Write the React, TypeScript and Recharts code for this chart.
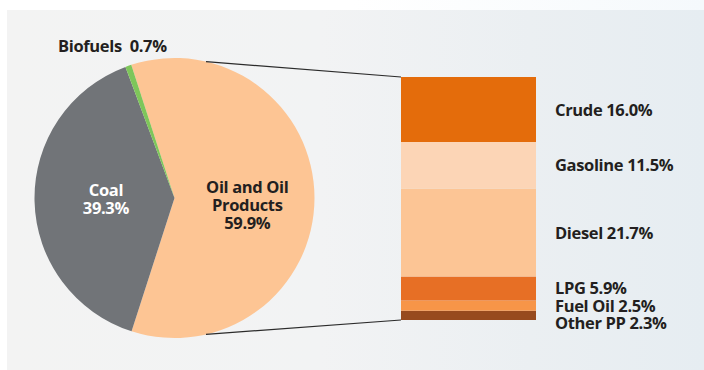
import { PieChart, Pie, Cell, BarChart, Bar, XAxis, YAxis, LabelList } from 'recharts'

const pieNames = ['Oil and Oil Products', 'Coal', 'Biofuels']
const pieValues = [59.9, 39.3, 0.7]
const pieColors = ['#FDC594', '#717478', '#7EC65A']

// bottom of the stack first
const productNames = ['Other PP', 'Fuel Oil', 'LPG', 'Diesel', 'Gasoline', 'Crude']
const productValues = [2.3, 2.5, 5.9, 21.7, 11.5, 16.0]
const productColors = ['#974A1E', '#F79548', '#E76F25', '#FCC595', '#FCD5B6', '#E46C0B']
const productLabelDy = [8, 0, -1, 0, 0, 1]

const W = 704
const H = 370
const FONT = '"Open Sans", sans-serif'
const FS = 16.5
const LS = -0.35

// pie geometry
const CX = 174.5
const CY = 198
const R = 140
const START = 108

// bar geometry
const BAR_M = { top: 77, bottom: 50, left: 401, right: 168 }

const pieData = pieNames.map((name, i) => ({ name, value: pieValues[i] }))
const barData = [
  productNames.reduce((row: any, n, i) => ({ ...row, [n]: productValues[i] }), { name: 'Oil and Oil Products' }),
]

// label placement per slice: radius factor, extra offsets, lines
const labelRadius = [0.52, 0.49, 1.15]
const labelShift = [[0, 7], [0, -1], [-9, 0]]
const labelFill = ['#231F20', '#FFFFFF', '#231F20']
const labelLines = [['Oil and Oil', 'Products', '59.9%'], ['Coal', '39.3%'], ['Biofuels  0.7%']]

const RAD = Math.PI / 180

const PieLabel = (props: any) => {
  const { cx, cy, midAngle, outerRadius, index } = props
  const r = outerRadius * labelRadius[index]
  const x = cx + r * Math.cos(-midAngle * RAD) + labelShift[index][0]
  const y = cy + r * Math.sin(-midAngle * RAD) + labelShift[index][1]
  const lines = labelLines[index]
  const lh = 18
  const y0 = y - ((lines.length - 1) * lh) / 2 + 6
  return (
    <text
      x={x}
      y={y0}
      textAnchor="middle"
      fill={labelFill[index]}
      fontSize={FS}
      fontWeight={700}
      fontFamily={FONT}
      letterSpacing={LS}
    >
      {lines.map((l, k) => (
        <tspan key={k} x={x} y={y0 + k * lh} style={{ whiteSpace: 'pre' }}>{l}</tspan>
      ))}
    </text>
  )
}

const makeBarLabel = (i: number) => (props: any) => {
  const { x, y, width, height } = props
  return (
    <text
      x={Number(x) + Number(width) + 19}
      y={Number(y) + Number(height) / 2 + 6 + productLabelDy[i]}
      fill="#231F20"
      fontSize={FS}
      fontWeight={700}
      fontFamily={FONT}
      letterSpacing={LS}
    >
      {`${productNames[i]} ${productValues[i].toFixed(1)}%`}
    </text>
  )
}

export default function App() {
  const barLeft = BAR_M.left
  const barTop = BAR_M.top
  const barBottom = H - BAR_M.bottom
  const a = 77 * RAD
  const p1 = { x: CX + R * Math.cos(a), y: CY - R * Math.sin(a) }
  const p2 = { x: CX + R * Math.cos(a), y: CY + R * Math.sin(a) }

  return (
    <div
      style={{
        position: 'absolute',
        left: 0,
        top: 0,
        width: W,
        height: H,
        background: 'linear-gradient(90deg, #FFFFFF 0%, #FFFFFF 50%, #F5F9FC 100%)',
        overflow: 'hidden',
      }}
    >
      <div
        style={{
          position: 'absolute',
          left: 7,
          top: 10,
          width: W - 7,
          height: H - 10,
          background: 'linear-gradient(90deg, #F3F3F3 0%, #F2F3F4 45%, #EBEFF2 75%, #E6EDF2 100%)',
        }}
      />
      <div style={{ position: 'absolute', left: 0, top: 0 }}>
        <BarChart width={W} height={H} data={barData} margin={BAR_M} barCategoryGap={0}>
          <XAxis dataKey="name" hide />
          <YAxis hide domain={[0, 'dataMax']} />
          {productNames.map((n, i) => (
            <Bar key={n} dataKey={n} stackId="oil" fill={productColors[i]} isAnimationActive={false}>
              <LabelList dataKey={n} content={makeBarLabel(i)} />
            </Bar>
          ))}
        </BarChart>
      </div>
      <div style={{ position: 'absolute', left: 0, top: 0 }}>
        <PieChart width={W} height={H} margin={{ top: 0, right: 0, bottom: 0, left: 0 }}>
          <Pie
            data={pieData}
            dataKey="value"
            nameKey="name"
            cx={CX}
            cy={CY}
            outerRadius={R}
            startAngle={START}
            endAngle={START - 360}
            stroke="none"
            label={PieLabel}
            labelLine={false}
            isAnimationActive={false}
          >
            {pieData.map((d, i) => (
              <Cell key={d.name} fill={pieColors[i]} />
            ))}
          </Pie>
        </PieChart>
      </div>
      <svg width={W} height={H} style={{ position: 'absolute', left: 0, top: 0, pointerEvents: 'none' }}>
        <line x1={p1.x} y1={p1.y} x2={barLeft} y2={barTop} stroke="#2B2B2B" strokeWidth={1.2} />
        <line x1={p2.x} y1={p2.y} x2={barLeft} y2={barBottom} stroke="#2B2B2B" strokeWidth={1.2} />
      </svg>
    </div>
  )
}
